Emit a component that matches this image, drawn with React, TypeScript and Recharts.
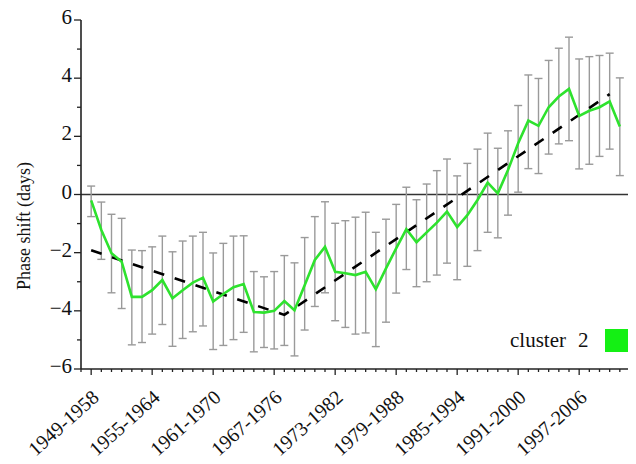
import React from 'react';
import { LineChart, Line, XAxis, YAxis, ErrorBar, ReferenceLine, Legend, Label } from 'recharts';

const categories = [
  '1949-1958', '1950-1959', '1951-1960', '1952-1961', '1953-1962', '1954-1963',
  '1955-1964', '1956-1965', '1957-1966', '1958-1967', '1959-1968', '1960-1969',
  '1961-1970', '1962-1971', '1963-1972', '1964-1973', '1965-1974', '1966-1975',
  '1967-1976', '1968-1977', '1969-1978', '1970-1979', '1971-1980', '1972-1981',
  '1973-1982', '1974-1983', '1975-1984', '1976-1985', '1977-1986', '1978-1987',
  '1979-1988', '1980-1989', '1981-1990', '1982-1991', '1983-1992', '1984-1993',
  '1985-1994', '1986-1995', '1987-1996', '1988-1997', '1989-1998', '1990-1999',
  '1991-2000', '1992-2001', '1993-2002', '1994-2003', '1995-2004', '1996-2005',
  '1997-2006', '1998-2007', '1999-2008', '2000-2009', '2001-2010',
];

const phaseShift = [
  -0.2, -1.22, -2.02, -2.31, -3.52, -3.52, -3.29, -2.94, -3.57, -3.29,
  -3.03, -2.86, -3.68, -3.42, -3.19, -3.08, -4.04, -4.06, -4.0, -3.66,
  -3.98, -3.12, -2.25, -1.8, -2.66, -2.71, -2.77, -2.66, -3.26, -2.54,
  -1.85, -1.19, -1.64, -1.3, -0.97, -0.59, -1.12, -0.71, -0.19, 0.41,
  0.04, 0.84, 1.76, 2.54, 2.36, 3.0, 3.37, 3.63, 2.7, 2.88,
  3.0, 3.2, 2.34,
];

const upperBound = [
  0.29, -0.26, -0.68, -0.82, -1.91, -1.93, -1.8, -1.43, -1.97, -1.6,
  -1.43, -1.3, -2.01, -1.68, -1.43, -1.42, -2.65, -2.83, -2.65, -2.1,
  -2.35, -1.48, -0.76, -0.25, -0.99, -0.9, -0.78, -0.61, -1.3, -0.85,
  -0.34, 0.25, -0.18, 0.36, 0.82, 1.22, 0.64, 1.07, 1.56, 2.11,
  1.59, 2.19, 3.06, 4.11, 3.99, 4.61, 5.03, 5.41, 4.66, 4.74,
  4.78, 4.86, 4.01,
];

const lowerBound = [
  -0.76, -2.23, -3.38, -3.92, -5.17, -5.09, -4.8, -4.47, -5.22, -4.95,
  -4.72, -4.52, -5.33, -5.19, -4.99, -4.74, -5.41, -5.26, -5.31, -5.19,
  -5.55, -4.66, -3.85, -3.38, -4.34, -4.57, -4.8, -4.76, -5.23, -4.39,
  -3.39, -2.58, -3.17, -3.0, -2.77, -2.36, -2.93, -2.47, -1.93, -1.3,
  -1.49, -0.71, 0.08, 0.89, 0.72, 1.39, 1.74, 1.85, 0.88, 1.04,
  1.31, 1.56, 0.65,
];

const trendIndex = [0, 19, 51];
const trendValue = [-1.92, -4.14, 3.45];

const yTicks = [-6, -5, -4, -3, -2, -1, 0, 1, 2, 3, 4, 5, 6];
const yLabels = [-6, -4, -2, 0, 2, 4, 6];
const xTicks = Array.from({ length: 55 }, (_, k) => k - 1);
const seriesWord = 'cluster';
const seriesNumber = '2';

const FONT = "'Liberation Serif', 'Times New Roman', serif";
const GREEN = '#2ee22e';

const data = categories.map((c, i) => {
  const t = trendIndex.indexOf(i);
  return {
    idx: i,
    label: c,
    shift: phaseShift[i],
    err: [phaseShift[i] - lowerBound[i], upperBound[i] - phaseShift[i]],
    trend: t >= 0 ? trendValue[t] : null,
  };
});

const XTick = (props: any) => {
  const { x, y, payload } = props;
  const i = payload.value as number;
  const major = i >= 0 && i < categories.length && i % 6 === 0;
  const tx = x + 9;
  const ty = y + 30;
  return (
    <g>
      <line x1={x} x2={x} y1={y} y2={y + (major ? 6 : 3)} stroke="#222" strokeWidth={1.3} />
      {major && (
        <text
          x={tx}
          y={ty}
          textAnchor="end"
          transform={`rotate(-42, ${tx}, ${ty})`}
          fontFamily={FONT}
          fontSize={20}
          fill="#111"
        >
          {categories[i]}
        </text>
      )}
    </g>
  );
};

const YTick = (props: any) => {
  const { x, y, payload } = props;
  const v = payload.value as number;
  const major = yLabels.includes(v);
  return (
    <g>
      <line x1={x} x2={x - (major ? 7 : 4)} y1={y} y2={y} stroke="#222" strokeWidth={1.3} />
      {major && (
        <text x={x - 9} y={y + 4} textAnchor="end" fontFamily={FONT} fontSize={21} fill="#111">
          {v < 0 ? `\u2212${Math.abs(v)}` : `${v}`}
        </text>
      )}
    </g>
  );
};

const LegendContent = () => (
  <div style={{ position: 'relative', width: 130, height: 26, fontFamily: FONT, fontSize: 21, lineHeight: '26px', color: '#111' }}>
    <span style={{ position: 'absolute', left: 0, top: -1 }}>{seriesWord}</span>
    <span style={{ position: 'absolute', left: 68, top: -1 }}>{seriesNumber}</span>
    <span style={{ position: 'absolute', left: 95, top: 1, width: 24, height: 23, background: '#14f014' }} />
  </div>
);

export default function App() {
  return (
    <div style={{ width: 636, height: 464, marginTop: -8, marginLeft: -8, background: '#fff', position: 'relative' }}>
      <LineChart width={636} height={464} data={data} margin={{ top: 20, right: 6, bottom: 10, left: 8 }}>
        <XAxis
          dataKey="idx"
          type="number"
          domain={[-1, 53]}
          ticks={xTicks}
          interval={0}
          tick={<XTick />}
          tickLine={false}
          tickSize={0}
          tickMargin={0}
          axisLine={{ stroke: '#222', strokeWidth: 1.6 }}
          height={85}
          allowDataOverflow
        />
        <YAxis
          type="number"
          domain={[-6, 6]}
          ticks={yTicks}
          interval={0}
          tick={<YTick />}
          tickLine={false}
          tickSize={0}
          tickMargin={0}
          axisLine={{ stroke: '#222', strokeWidth: 1.6 }}
          width={73}
        >
          <Label
            content={() => (
              <text
                x={30}
                y={226}
                textAnchor="middle"
                transform="rotate(-90, 30, 226)"
                fontFamily={FONT}
                fontSize={18}
                fill="#111"
              >
                Phase shift (days)
              </text>
            )}
          />
        </YAxis>
        <ReferenceLine y={0} stroke="#333" strokeWidth={1.6} />
        <Line
          dataKey="shift"
          stroke="none"
          strokeOpacity={0}
          dot={false}
          activeDot={false}
          isAnimationActive={false}
          legendType="none"
        >
          <ErrorBar dataKey="err" direction="y" width={4} stroke="#9a9a9a" strokeWidth={1.4} />
        </Line>
        <Line
          dataKey="trend"
          stroke="#000"
          strokeWidth={2.6}
          strokeDasharray="11 11"
          dot={false}
          activeDot={false}
          connectNulls
          isAnimationActive={false}
          legendType="none"
        />
        <Line
          dataKey="shift"
          stroke={GREEN}
          strokeWidth={2.6}
          dot={false}
          activeDot={false}
          isAnimationActive={false}
        />
        <Legend
          layout="horizontal"
          verticalAlign="middle"
          align="center"
          content={<LegendContent />}
          wrapperStyle={{ position: 'absolute', left: 510, top: 328, width: 130, height: 26 }}
        />
      </LineChart>
    </div>
  );
}
